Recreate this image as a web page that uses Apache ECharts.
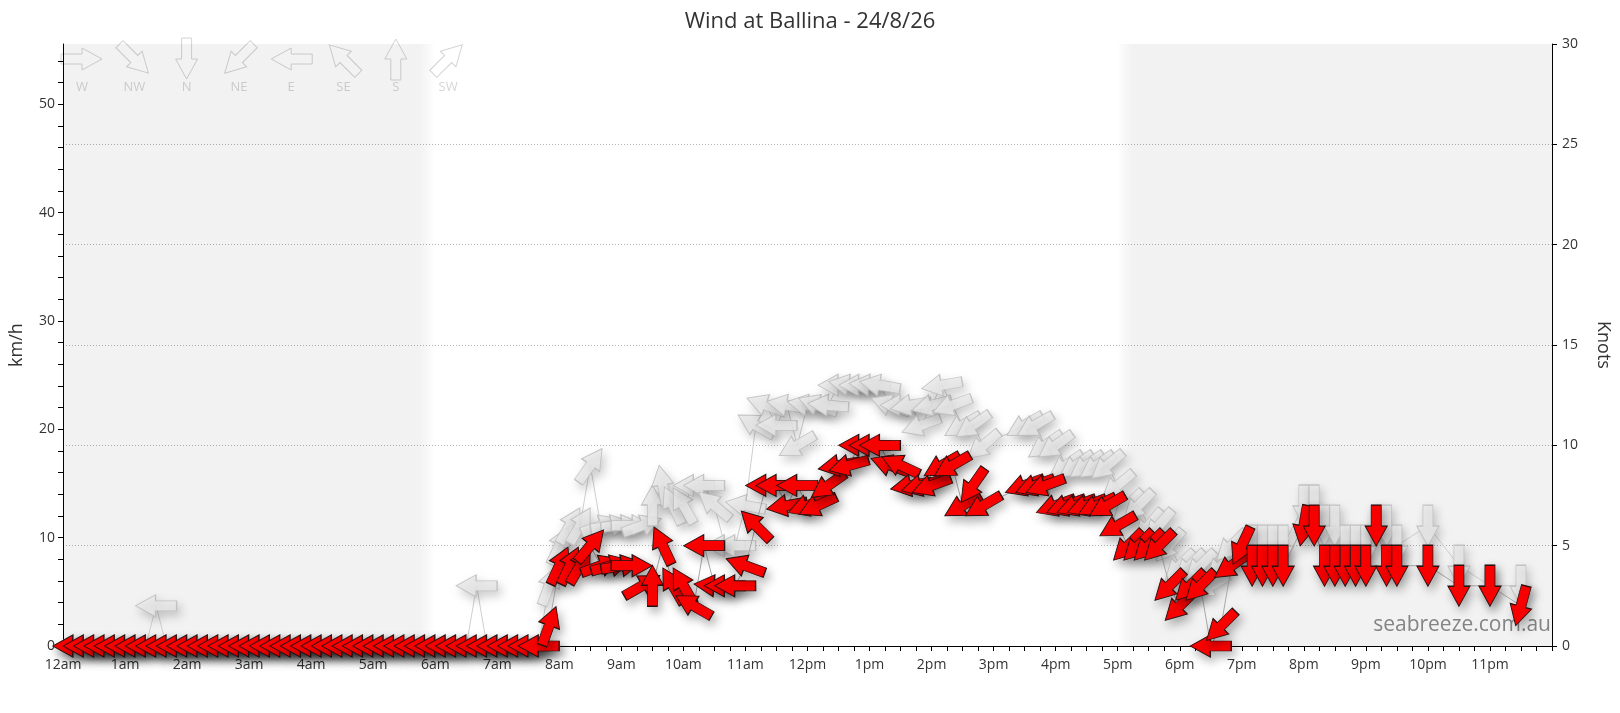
<!DOCTYPE html>
<html><head><meta charset="utf-8">
<script src="https://cdn.jsdelivr.net/npm/echarts@6/dist/echarts.min.js"></script>
<style>html,body{margin:0;padding:0;background:#fff}#c{width:1620px;height:713px}</style>
</head><body><div id="c"></div><script>
// ---- data (time = minutes after midnight, speed in knots, direction wind comes FROM in degrees) ----
const speedTimes = [10,20,30,40,50,60,70,80,90,100,110,120,130,140,150,160,170,180,190,200,210,220,230,240,250,260,270,280,290,300,310,320,330,340,350,360,370,380,390,400,410,420,430,440,450,460,
 470,480,490,500,510,520,530,540,550,560,570,580,590,600,610,620,630,640,650,660,670,680,690,700,710,720,730,740,750,760,770,780,790,800,810,820,830,840,850,860,870,880,890,
 930,940,950,960,970,980,990,1000,1010,1020,1030,1040,1050,1060,1070,1080,1090,1100,1110,1120,1130,1140,1150,1160,1170,1180,
 1200,1210,1220,1230,1240,1250,1260,1270,1280,1290,1320,1350,1380,1410];
const speedKnots = [0,0,0,0,0,0,0,0,0,0,0,0,0,0,0,0,0,0,0,0,0,0,0,0,0,0,0,0,0,0,0,0,0,0,0,0,0,0,0,0,0,0,0,0,0,0,
 1,4,4,4,5,4,4,4,4,3,3,5,3,3,2,5,3,3,3,4,6,8,8,7,8,7,7,8,9,9,10,10,10,9,9,8,8,8,9,9,7,8,7,
 8,8,8,7,7,7,7,7,7,6,5,5,5,5,3,2,3,3,0,1,4,5,4,4,4,4,
 6,6,4,4,4,4,4,6,4,4,4,3,3,2];
const speedDirs = [90,90,90,90,90,90,90,90,90,90,90,90,90,90,90,90,90,90,90,90,90,90,90,90,90,90,90,90,90,90,90,90,90,90,90,90,90,90,90,90,90,90,90,90,90,90,
 200,205,205,210,220,250,255,260,270,240,180,155,150,150,120,90,95,90,90,110,135,90,90,80,90,70,65,55,80,75,90,90,90,110,115,80,75,70,60,60,60,35,60,
 70,70,70,70,70,70,70,65,60,60,45,45,45,45,45,45,45,45,90,45,55,25,0,0,0,0,
 10,0,0,0,0,0,0,0,0,0,0,0,0,15];

const gustTimes = speedTimes.slice();
const gustKnots = [0,0,0,0,0,0,0,0,2,0,0,0,0,0,0,0,0,0,0,0,0,0,0,0,0,0,0,0,0,0,0,0,0,0,0,0,0,0,0,3,0,0,0,0,0,0,
 3,5,6,6,9,6,6,6,6,6,7,8,7,7,8,8,7,5,5,7,11,12,11,12,10,12,12,12,13,13,13,13,13,12,12,12,11,12,13,12,11,11,10,
 11,11,10,10,9,9,9,9,9,8,7,7,6,6,5,4,4,4,3,4,5,5,5,5,5,5,
 7,7,6,6,5,5,5,6,6,5,6,4,3,3];
const gustDirs = [90,90,90,90,90,90,90,90,90,90,90,90,90,90,90,90,90,90,90,90,90,90,90,90,90,90,90,90,90,90,90,90,90,90,90,90,90,90,90,90,90,90,90,90,90,90,
 200,205,210,210,215,250,260,265,270,250,180,170,155,150,90,90,130,90,90,100,120,110,90,100,60,100,110,95,90,100,90,95,100,110,90,80,70,75,80,70,60,55,50,
 60,60,55,55,55,55,55,55,50,50,45,45,40,40,40,45,45,45,60,45,45,25,0,0,0,0,
 0,0,0,0,0,0,0,0,0,0,0,0,0,0];

const hourLabels = ['12am','1am','2am','3am','4am','5am','6am','7am','8am','9am','10am','11am',
                    '12pm','1pm','2pm','3pm','4pm','5pm','6pm','7pm','8pm','9pm','10pm','11pm'];
const compassNames = ['W','NW','N','NE','E','SE','S','SW'];
const compassDirs = [270,315,0,45,90,135,180,225];
const kmhLabels = [0,10,20,30,40,50];
const kmhTicks = [0,2,4,6,8,10,12,14,16,18,20,22,24,26,28,30,32,34,36,38,40,42,44,46,48,50,52,54];
const KMH_PER_KNOT = 1.852;

// ---- helpers ----
const ARROW = 'path://M0,-20L11,0L5,0L5,21L-5,21L-5,0L-11,0Z';
const ARROW_PTS = [[0,-20],[11,0],[5,0],[5,21],[-5,21],[-5,0],[-11,0]];
const rot = d => -(d + 180);
const pairs = (t, k) => t.map((x, i) => [x, k[i]]);
const arrows = (t, k, d) => t.map((x, i) => ({ value: [x, k[i]], symbolRotate: rot(d[i]) }));
const FONT = '"Open Sans", "Noto Sans", sans-serif';
const shade = 'rgba(0,0,0,0.052)';

const legendGraphics = [];
compassNames.forEach((n, i) => {
  const cx = 82 + 52.3 * i;
  legendGraphics.push({
    type: 'polygon', x: cx, y: 59, rotation: rot(compassDirs[i]) * Math.PI / 180,
    shape: { points: ARROW_PTS }, silent: true,
    style: { fill: 'rgba(255,255,255,0)', stroke: '#d4d4d4', lineWidth: 1 }
  });
  legendGraphics.push({
    type: 'text', x: cx, y: 87, silent: true,
    style: { text: n, fill: '#d6d6d6', font: '13px ' + FONT, textAlign: 'center', textVerticalAlign: 'middle' }
  });
});
legendGraphics.push({
  type: 'text', right: 69, top: 615, silent: true,
  style: { text: 'seabreeze.com.au', fill: '#8c8c8c', font: '21px ' + FONT }
});

const chart = echarts.init(document.getElementById('c'), null, { renderer: 'canvas' });
chart.setOption({
  animation: false,
  backgroundColor: '#fff',
  title: { text: 'Wind at Ballina - 24/8/26', left: 'center', top: 6,
    textStyle: { fontSize: 22, fontWeight: 'normal', color: '#333', fontFamily: FONT } },
  grid: { left: 62, right: 60, top: 44, bottom: 67 },
  xAxis: {
    type: 'value', min: 0, max: 1440, interval: 60,
    axisLine: { lineStyle: { color: '#000', width: 1 } },
    axisTick: { length: 5, lineStyle: { color: '#000' } },
    minorTick: { show: true, splitNumber: 4, length: 5, lineStyle: { color: '#000' } },
    splitLine: { show: false }, minorSplitLine: { show: false },
    axisLabel: { margin: 12, color: '#333', fontSize: 14, fontFamily: FONT, showMaxLabel: false,
      formatter: v => hourLabels[Math.round(v / 60)] || '' }
  },
  yAxis: [
    {
      type: 'value', min: 0, max: 30 * KMH_PER_KNOT, interval: 2, position: 'left',
      name: 'km/h', nameLocation: 'middle', nameGap: 37, nameRotate: 90,
      nameTextStyle: { fontSize: 18, color: '#333', fontFamily: FONT },
      axisLine: { show: true, lineStyle: { color: '#000' } },
      axisTick: { show: true, length: 5, lineStyle: { color: '#000' }, customValues: kmhTicks },
      splitLine: { show: false },
      axisLabel: { color: '#333', fontSize: 14, fontFamily: FONT, margin: 8, showMaxLabel: true,
        customValues: kmhLabels,
        formatter: v => (Math.abs(v % 10) < 1e-6 && v <= 50 ? String(Math.round(v)) : '') }
    },
    {
      type: 'value', min: 0, max: 30, interval: 5, position: 'right',
      name: 'Knots', nameLocation: 'middle', nameGap: 42, nameRotate: -90,
      nameTextStyle: { fontSize: 18, color: '#333', fontFamily: FONT },
      axisLine: { show: true, lineStyle: { color: '#000' } },
      axisTick: { show: true, length: 5, lineStyle: { color: '#000' } },
      splitLine: { show: true, showMinLine: false, showMaxLine: false,
        lineStyle: { color: '#b4b4b4', type: [1, 2], width: 1 } },
      axisLabel: { color: '#333', fontSize: 14, fontFamily: FONT, margin: 10 }
    }
  ],
  graphic: legendGraphics,
  series: [
    {
      name: 'gust line', type: 'line', yAxisIndex: 1, z: 1, silent: true,
      data: pairs(gustTimes, gustKnots), showSymbol: false, symbol: 'none',
      lineStyle: { color: '#cfcfcf', width: 1 },
      emphasis: { disabled: true },
      markArea: {
        silent: true, label: { show: false },
        data: [
          [{ xAxis: 0, itemStyle: { color: shade } }, { xAxis: 345 }],
          [{ xAxis: 345, itemStyle: { color: { type: 'linear', x: 0, y: 0, x2: 1, y2: 0,
              colorStops: [{ offset: 0, color: shade }, { offset: 1, color: 'rgba(0,0,0,0)' }] } } }, { xAxis: 360 }],
          [{ xAxis: 1019, itemStyle: { color: { type: 'linear', x: 0, y: 0, x2: 1, y2: 0,
              colorStops: [{ offset: 0, color: 'rgba(0,0,0,0)' }, { offset: 1, color: shade }] } } }, { xAxis: 1034 }],
          [{ xAxis: 1034, itemStyle: { color: shade } }, { xAxis: 1440 }]
        ]
      }
    },
    {
      name: 'gust', type: 'scatter', yAxisIndex: 1, z: 2, clip: false, silent: true,
      symbol: ARROW, symbolSize: [22, 41],
      data: arrows(gustTimes, gustKnots, gustDirs),
      itemStyle: { opacity: 1, color: 'rgba(234,234,234,0.85)', borderColor: 'rgba(190,190,190,0.9)', borderWidth: 1,
        shadowBlur: 10, shadowColor: 'rgba(0,0,0,0.22)', shadowOffsetX: 3, shadowOffsetY: 5 },
      emphasis: { disabled: true }
    },
    {
      name: 'speed line', type: 'line', yAxisIndex: 1, z: 3, silent: true,
      data: pairs(speedTimes, speedKnots), showSymbol: false, symbol: 'none',
      lineStyle: { color: '#a8a8a8', width: 1 },
      emphasis: { disabled: true }
    },
    {
      name: 'speed', type: 'scatter', yAxisIndex: 1, z: 4, clip: false, silent: true,
      symbol: ARROW, symbolSize: [22, 41],
      data: arrows(speedTimes, speedKnots, speedDirs),
      itemStyle: { opacity: 1, color: '#ff0000', borderColor: '#2a1010', borderWidth: 1,
        shadowBlur: 10, shadowColor: 'rgba(0,0,0,0.3)', shadowOffsetX: 3, shadowOffsetY: 5 },
      emphasis: { disabled: true }
    }
  ]
});
</script></body></html>
